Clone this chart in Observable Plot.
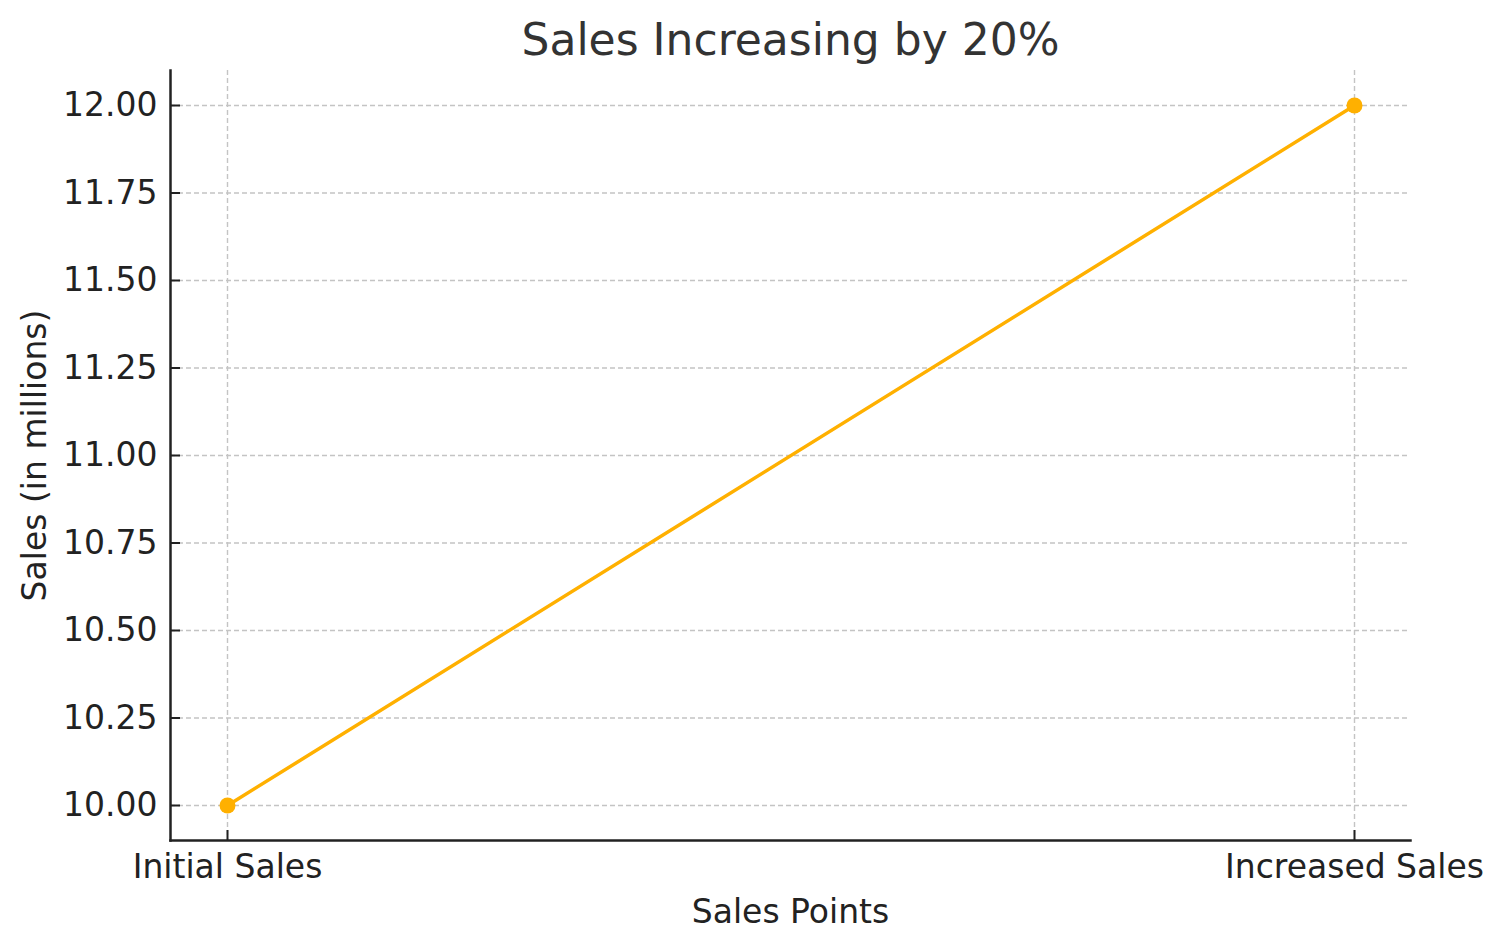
<!DOCTYPE html>
<html>
<head>
<meta charset="utf-8">
<script src="https://cdn.jsdelivr.net/npm/d3@7"></script>
<script src="https://cdn.jsdelivr.net/npm/@observablehq/plot@0.6"></script>
<style>
  html, body { margin: 0; padding: 0; background: #fff; }
  svg { display: block; }
</style>
</head>
<body>
<div id="chart"></div>
<script>
const categories = ["Initial Sales", "Increased Sales"];
const sales = [10.0, 12.0];
const yTicks = [10.0, 10.25, 10.5, 10.75, 11.0, 11.25, 11.5, 11.75, 12.0];
const titleText = "Sales Increasing by 20%";
const xLabel = "Sales Points";
const yLabel = "Sales (in millions)";

const data = categories.map((c, i) => ({category: c, value: sales[i]}));
const color = "#ffb000";
const ink = "#222";
const W = 1504, H = 947, mL = 170, mR = 94, mT = 70, mB = 107;
const frameW = W - mL - mR, frameH = H - mT - mB, tickLen = 10;

const chart = Plot.plot({
  width: W,
  height: H,
  marginLeft: mL,
  marginRight: mR,
  marginTop: mT,
  marginBottom: mB,
  style: {fontFamily: "DejaVu Sans, sans-serif", fontSize: "33px", color: ink, background: "#fff"},
  x: {type: "point", domain: categories, padding: 0.05},
  y: {domain: [9.9, 12.1]},
  marks: [
    Plot.gridY(yTicks, {stroke: "#c4c4c4", strokeOpacity: 1, strokeWidth: 1.4, strokeDasharray: "5,3"}),
    Plot.gridX(categories, {stroke: "#c4c4c4", strokeOpacity: 1, strokeWidth: 1.4, strokeDasharray: "5,3"}),
    Plot.ruleY(yTicks, {insetRight: frameW - tickLen, stroke: ink, strokeWidth: 2}),
    Plot.ruleX(categories, {insetTop: frameH - tickLen, stroke: ink, strokeWidth: 2}),
    Plot.frame({anchor: "left", stroke: ink, strokeWidth: 2.5}),
    Plot.frame({anchor: "bottom", stroke: ink, strokeWidth: 2.5}),
    Plot.axisY(yTicks, {tickSize: 0, tickPadding: 13, tickFormat: d3.format(".2f"), fill: ink, label: yLabel, labelAnchor: "center", labelArrow: "none", labelOffset: 148}),
    Plot.axisX(categories, {tickSize: 0, tickPadding: 14, fill: ink, label: xLabel, labelAnchor: "center", labelArrow: "none", labelOffset: 82}),
    Plot.line(data, {x: "category", y: "value", stroke: color, strokeWidth: 3.5}),
    Plot.dot(data, {x: "category", y: "value", fill: color, r: 8}),
    Plot.text([titleText], {frameAnchor: "top", dy: -16, fontSize: 44, fill: "#333", lineAnchor: "bottom", text: d => d})
  ]
});
document.getElementById("chart").appendChild(chart);
</script>
</body>
</html>
